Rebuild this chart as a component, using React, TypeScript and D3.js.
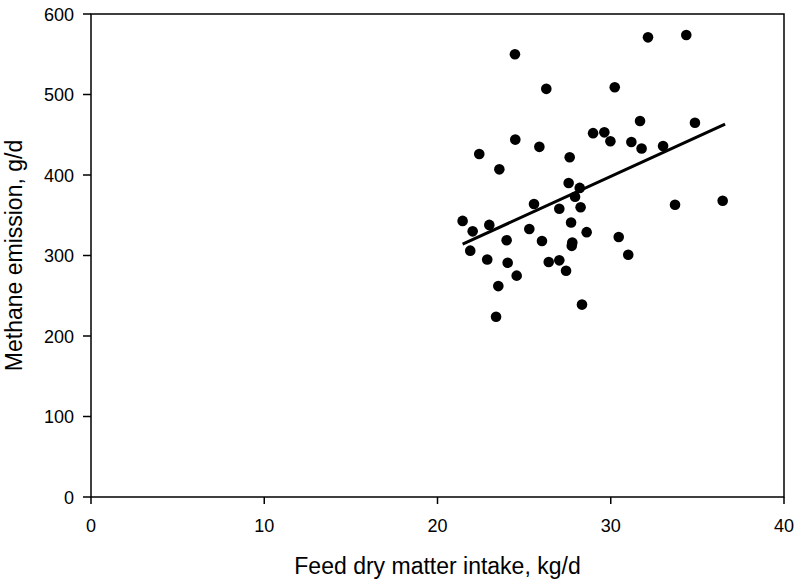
import React from "react";
import * as d3 from "d3";

const intakeKg: number[] = [
  24.47, 26.28, 30.23, 32.15, 34.36, 31.69, 34.86, 28.98, 29.63, 29.98,
  31.19, 31.78, 33.02, 22.41, 24.49, 25.88, 23.57, 27.63, 27.57, 28.21,
  27.94, 25.57, 27.03, 28.26, 33.71, 36.46, 21.45, 22.03, 22.99, 27.71,
  25.3, 28.61, 30.46, 23.99, 26.03, 27.78, 27.75, 21.89, 31.01, 22.87,
  24.05, 26.42, 27.03, 27.42, 24.57, 23.51, 28.34, 23.38,
];
const methaneG: number[] = [
  550, 507, 509, 571, 574, 467, 465, 452, 453, 442,
  441, 433, 436, 426, 444, 435, 407, 422, 390, 384,
  373, 364, 358, 360, 363, 368, 343, 330, 338, 341,
  333, 329, 323, 319, 318, 316, 312, 306, 301, 295,
  291, 292, 294, 281, 275, 262, 239, 224,
];
const fitSlope = 9.84;
const fitIntercept = 103;
const fitRange: number[] = [21.45, 36.6];

const xTicks: number[] = [0, 10, 20, 30, 40];
const yTicks: number[] = [0, 100, 200, 300, 400, 500, 600];
const xTitle = "Feed dry matter intake, kg/d";
const yTitle = "Methane emission, g/d";

const W = 796;
const H = 582;
const FONT = "'Liberation Sans', Arial, sans-serif";

export default function App() {
  const x = d3.scaleLinear().domain([0, 40]).range([91, 784]);
  const y = d3.scaleLinear().domain([0, 600]).range([497, 14]);
  const pts = intakeKg.map((v, i) => ({ x: v, y: methaneG[i] }));
  const fit = fitRange.map((v) => ({ x: v, y: fitIntercept + fitSlope * v }));
  const line = d3
    .line<{ x: number; y: number }>()
    .x((d) => x(d.x))
    .y((d) => y(d.y));
  const [x0, x1] = x.range();
  const [y0, y1] = y.range();

  return (
    <svg
      width={W}
      height={H}
      style={{ position: "absolute", left: 0, top: 0, background: "#fff" }}
      fontFamily={FONT}
    >
      <rect x={0} y={0} width={W} height={H} fill="#fff" />
      <rect
        x={x0}
        y={y1}
        width={x1 - x0}
        height={y0 - y1}
        fill="none"
        stroke="#000"
        strokeWidth={1.5}
      />
      {xTicks.map((t) => (
        <g key={"x" + t}>
          <line x1={x(t)} x2={x(t)} y1={y0} y2={y0 + 7} stroke="#000" strokeWidth={1.5} />
          <text x={x(t)} y={y0 + 35} textAnchor="middle" fontSize={18} fill="#000">
            {t}
          </text>
        </g>
      ))}
      {yTicks.map((t) => (
        <g key={"y" + t}>
          <line x1={x0 - 8} x2={x0} y1={y(t)} y2={y(t)} stroke="#000" strokeWidth={1.5} />
          <text x={x0 - 17} y={y(t) + 6.5} textAnchor="end" fontSize={18} fill="#000">
            {t}
          </text>
        </g>
      ))}
      <path d={line(fit) || ""} fill="none" stroke="#000" strokeWidth={3} />
      {pts.map((p, i) => (
        <circle key={i} cx={x(p.x)} cy={y(p.y)} r={5.3} fill="#000" />
      ))}
      <text x={(x0 + x1) / 2} y={574} textAnchor="middle" fontSize={23} fill="#000">
        {xTitle}
      </text>
      <text
        transform={`translate(22, ${(y0 + y1) / 2}) rotate(-90)`}
        textAnchor="middle"
        fontSize={23}
        fill="#000"
      >
        {yTitle}
      </text>
    </svg>
  );
}
